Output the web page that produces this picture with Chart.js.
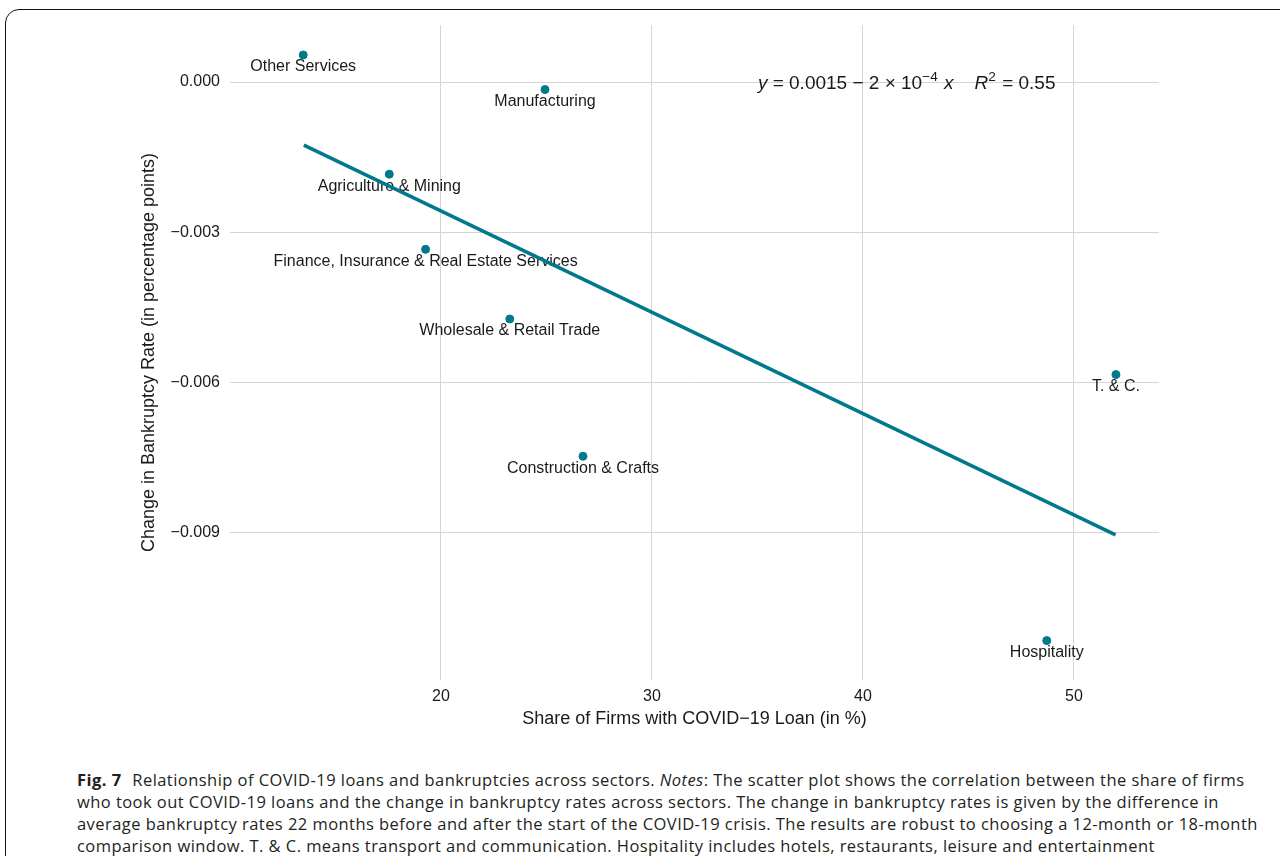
<!DOCTYPE html>
<html>
<head>
<meta charset="utf-8">
<script src="https://cdn.jsdelivr.net/npm/chart.js@4.4.1/dist/chart.umd.min.js"></script>
<style>
  html, body { margin: 0; padding: 0; background: #fff; }
  body { width: 1280px; height: 856px; position: relative; overflow: hidden; }
  #frame {
    position: absolute; left: 5px; top: 9px; width: 1300px; height: 860px;
    border: 1.5px solid #111; border-radius: 14px; box-sizing: border-box;
  }
  #wrap { position: absolute; left: 0; top: 0; width: 1280px; height: 734px; }
  #caption {
    position: absolute; left: 77px; top: 769px; width: 1200px;
    font-family: "Open Sans", sans-serif; font-size: 16.5px; line-height: 22px;
    color: #231f20; white-space: nowrap; letter-spacing: 0.45px;
  }
  #caption b { margin-right: 6px; }
</style>
</head>
<body>
<div id="frame"></div>
<div id="wrap"><canvas id="chart"></canvas></div>
<div id="caption">
  <div><b>Fig. 7</b> Relationship of COVID-19 loans and bankruptcies across sectors. <i>Notes</i>: The scatter plot shows the correlation between the share of firms</div>
  <div>who took out COVID-19 loans and the change in bankruptcy rates across sectors. The change in bankruptcy rates is given by the difference in</div>
  <div>average bankruptcy rates 22 months before and after the start of the COVID-19 crisis. The results are robust to choosing a 12-month or 18-month</div>
  <div>comparison window. T. &amp; C. means transport and communication. Hospitality includes hotels, restaurants, leisure and entertainment</div>
</div>
<script>
const sectors = [
  "Other Services",
  "Manufacturing",
  "Agriculture & Mining",
  "Finance, Insurance & Real Estate Services",
  "Wholesale & Retail Trade",
  "T. & C.",
  "Construction & Crafts",
  "Hospitality"
];
const loanShare = [13.47, 24.93, 17.55, 19.27, 23.26, 51.99, 26.73, 48.71];
const rateChange = [0.00054, -0.00015, -0.00184, -0.00334, -0.00473, -0.00584, -0.00747, -0.01115];

// fitted line at its two ends
const fitX = [13.5, 51.97];
const fitY = [-0.00126, -0.00904];

const xTicks = [20, 30, 40, 50];
const yTicks = [0, -0.003, -0.006, -0.009];

const teal = "#00798c";
const ink = "#1a1a1a";
const sans = "'Liberation Sans', Arial, sans-serif";

const pointLabels = {
  id: "pointLabels",
  beforeDatasetsDraw(chart) {
    const ctx = chart.ctx;
    const meta = chart.getDatasetMeta(0);
    ctx.save();
    ctx.font = "16px " + sans;
    ctx.fillStyle = ink;
    ctx.textAlign = "center";
    ctx.textBaseline = "middle";
    meta.data.forEach((pt, i) => {
      ctx.fillText(sectors[i], pt.x, pt.y + 12);
    });
    ctx.restore();
  }
};

const equation = {
  id: "equation",
  afterDraw(chart) {
    const ctx = chart.ctx;
    const x0 = chart.scales.x.getPixelForValue(35.02);
    const base = chart.scales.y.getPixelForValue(-0.00014);
    const size = 19;
    const parts = [
      { t: "y", it: true },
      { t: " = 0.0015 \u2212 2 \u00d7 10" },
      { t: "\u22124", sup: true },
      { t: " x", it: true },
      { t: "", gap: 21 },
      { t: "R", it: true },
      { t: "2", sup: true },
      { t: " = 0.55" }
    ];
    ctx.save();
    ctx.fillStyle = ink;
    ctx.textBaseline = "alphabetic";
    ctx.textAlign = "left";
    let x = x0;
    parts.forEach((p) => {
      if (p.gap) { x += p.gap; return; }
      const fs = p.sup ? size * 0.72 : size;
      ctx.font = (p.it ? "italic " : "") + fs + "px " + sans;
      ctx.fillText(p.t, x, p.sup ? base - 8 : base);
      x += ctx.measureText(p.t).width + (p.sup ? 1 : 0);
    });
    ctx.restore();
  }
};

const fmtY = (v) => {
  if (Math.abs(v) < 1e-9) return "0.000";
  return (v < 0 ? "\u2212" : "") + Math.abs(v).toFixed(3);
};

new Chart(document.getElementById("chart"), {
  type: "scatter",
  data: {
    datasets: [
      {
        label: "Sectors",
        data: loanShare.map((v, i) => ({ x: v, y: rateChange[i] })),
        backgroundColor: teal,
        borderColor: teal,
        pointRadius: 4,
        pointHoverRadius: 4,
        order: 2
      },
      {
        type: "line",
        label: "Fit",
        data: fitX.map((v, i) => ({ x: v, y: fitY[i] })),
        borderColor: teal,
        borderWidth: 3.5,
        pointRadius: 0,
        fill: false,
        order: 1
      }
    ]
  },
  options: {
    responsive: true,
    maintainAspectRatio: false,
    animation: false,
    layout: { padding: { left: 134, right: 121, top: 25, bottom: 0 } },
    plugins: {
      legend: { display: false },
      tooltip: { enabled: false }
    },
    scales: {
      x: {
        type: "linear",
        min: 10,
        max: 54.03,
        afterBuildTicks: (s) => { s.ticks = xTicks.map((v) => ({ value: v })); },
        afterFit: (s) => { s.height = 54; },
        grid: { color: "#d4d4d4", lineWidth: 1, drawTicks: false },
        border: { display: false },
        ticks: {
          padding: 7,
          color: ink,
          font: { family: sans, size: 16 },
          callback: (v) => String(v)
        },
        title: {
          display: true,
          text: "Share of Firms with COVID\u221219 Loan (in %)",
          color: ink,
          font: { family: sans, size: 18 }
        }
      },
      y: {
        type: "linear",
        min: -0.011936,
        max: 0.001138,
        afterBuildTicks: (s) => { s.ticks = yTicks.map((v) => ({ value: v })); },
        afterFit: (s) => { s.width = 96; },
        grid: { color: "#d4d4d4", lineWidth: 1, drawTicks: false },
        border: { display: false },
        ticks: {
          padding: 10,
          color: ink,
          font: { family: sans, size: 16 },
          callback: (v) => fmtY(v)
        },
        title: {
          display: true,
          text: "Change in Bankruptcy Rate (in percentage points)",
          color: ink,
          font: { family: sans, size: 18 }
        }
      }
    }
  },
  plugins: [pointLabels, equation]
});
</script>
</body>
</html>
